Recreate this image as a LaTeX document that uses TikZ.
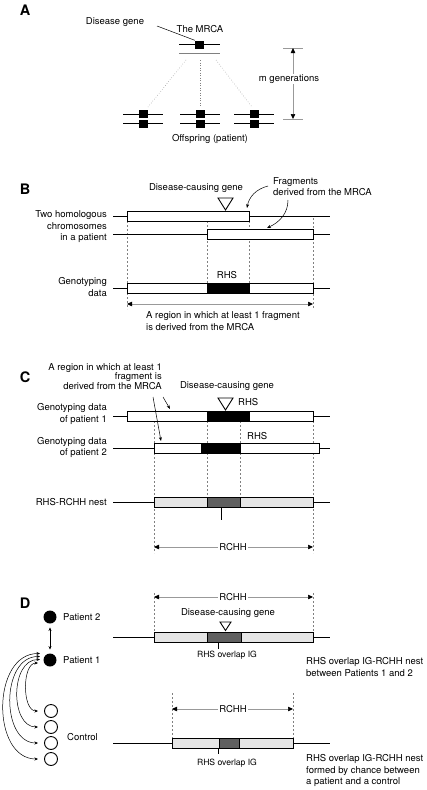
\documentclass[tikz,border=0pt]{standalone}
\usepackage{fontspec}
\setmainfont{TeX Gyre Heros}
\usetikzlibrary{arrows.meta}
\begin{document}
\begin{tikzpicture}[x=1pt,y=-1pt,
  txt/.style={font=\fontsize{9.5}{11.5}\selectfont, inner sep=0pt},
  small/.style={font=\fontsize{8.6}{10}\selectfont, inner sep=0pt},
  panel/.style={font=\fontsize{14.5}{15}\selectfont\bfseries, inner sep=0pt},
  chrom/.style={line width=0.9pt, black},
  seg/.style={draw=black, line width=0.9pt},
  gene/.style={fill=black, minimum width=9pt, minimum height=8pt, inner sep=0pt},
  guide/.style={gray, line width=0.5pt, dash pattern=on 2pt off 2pt},
  dim/.style={gray!80, line width=0.5pt, {Triangle[black,length=5pt,width=4.5pt]}-{Triangle[black,length=5pt,width=4.5pt]}},
  note/.style={line width=0.5pt, -{Stealth[length=4pt,width=3pt]}},
  tri/.style={draw=black, line width=0.9pt, fill=white},
  light/.style={fill=gray!20},
  dark/.style={fill=gray!75!black},
  circ/.style={circle, minimum size=13pt, inner sep=0pt, line width=0.9pt},
  darr/.style={line width=0.5pt, {Stealth[length=3.5pt,width=3pt]}-{Stealth[length=3.5pt,width=3pt]}}
]
\useasboundingbox (0,0) rectangle (427,790);
\fill[white] (0,0) rectangle (427,790);

% ---------------- Panel A ----------------
\node[panel] (lA) at (25,10) {A};
\node[txt] (dg) at (115,22) {Disease gene};
\node[txt] (mrca) at (200,29) {The MRCA};
\coordinate (m1) at (179,44); \coordinate (m2) at (220,44);
\coordinate (m3) at (179,53); \coordinate (m4) at (220,53);
\draw[chrom] (m1) -- (m2);
\draw[chrom, gray] (m3) -- (m4);
\node[gene] (g0) at (199.5,44.5) {};
\coordinate (dgs) at (157,26);
\draw[line width=0.5pt] (dgs) -- (g0.north west);
% dotted descent lines
\foreach \sx/\ex [count=\i] in {186/148, 200/200, 216/252}{
  \coordinate (ds\i) at (\sx,60); \coordinate (de\i) at (\ex,107);
  \draw[gray, line width=0.5pt, dotted] (ds\i) -- (de\i);
}
% offspring
\foreach \cx [count=\i] in {143,200,254}{
  \coordinate (oa\i) at (\cx-20,114); \coordinate (ob\i) at (\cx+20,114);
  \coordinate (oc\i) at (\cx-20,123); \coordinate (od\i) at (\cx+20,123);
  \draw[chrom] (oa\i) -- (ob\i);
  \draw[chrom] (oc\i) -- (od\i);
  \node[gene] (gu\i) at (\cx,114) {};
  \node[gene] (gl\i) at (\cx,123.5) {};
}
\node[txt] (off) at (210,139) {Offspring (patient)};
% m generations
\coordinate (t1a) at (283,48); \coordinate (t1b) at (303,48);
\coordinate (t2a) at (283,119); \coordinate (t2b) at (303,119);
\draw[gray!80, line width=0.6pt] (t1a) -- (t1b);
\draw[gray!80, line width=0.6pt] (t2a) -- (t2b);
\coordinate (mt) at (293,48); \coordinate (mb) at (293,119);
\draw[dim] (mt) -- (mb);
\node[txt, fill=white, inner sep=1pt] (mg) at (289,79) {m generations};

% ---------------- Panel B ----------------
\node[panel] (lB) at (25,189) {B};
\node[txt] (dcgB) at (196,188) {Disease-causing gene};
\node[txt, align=left, anchor=west] (fragB) at (273,186.5) {Fragments\\derived from the MRCA};
% guides
\draw[guide] (127,221) -- (127,309);
\draw[guide] (207,221) -- (207,283);
\draw[guide] (249,221) -- (249,283);
\draw[guide] (313,218) -- (313,309);
% chromosomes
\draw[chrom] (113,216) -- (330,216);
\draw[seg, fill=white] (127,211) rectangle (249,221);
\draw[chrom] (113,234) -- (330,234);
\draw[seg, fill=white] (207,229) rectangle (313,239);
\draw[tri] (218,198) -- (233,198) -- (225.5,210) -- cycle;
\node[txt, align=right, anchor=east] (homB) at (107,227) {Two homologous\\chromosomes\\in a patient};
\coordinate (fa1) at (268,186); \coordinate (fa2) at (247,208);
\coordinate (fb1) at (288,200); \coordinate (fb2) at (267,228);
\draw[note] (fa1) .. controls (256,189) and (249,197) .. (fa2);
\draw[note] (fb1) .. controls (288,213) and (280,222) .. (fb2);
% genotyping
\draw[chrom] (113,288) -- (330,288);
\draw[seg, fill=white] (127,283) rectangle (313,293);
\draw[seg, fill=black] (207,283) rectangle (249,293);
\node[txt] (rhsB) at (227,275) {RHS};
\node[txt, align=right, anchor=east] (genB) at (107,287) {Genotyping\\data};
\coordinate (bl) at (127,304); \coordinate (br) at (313,304);
\draw[dim] (bl) -- (br);
\node[txt, align=left, anchor=west] (regB) at (146,321) {A region in which at least 1 fragment\\is derived from the MRCA};

% ---------------- Panel C ----------------
\node[panel] (lC) at (25,377) {C};
\node[txt, align=right, anchor=east, font=\fontsize{9.5}{9.8}\selectfont] (regC) at (162,376.5) {A region in which at least 1\\fragment is\\derived from the MRCA};
\node[txt] (dcgC) at (227,386) {Disease-causing gene};
% guides
\draw[guide] (154,421) -- (154,553);
\draw[guide] (207,421) -- (207,497);
\draw[guide] (240,421) -- (240,497);
\draw[guide] (313,421) -- (313,553);
% patient 1
\draw[chrom] (113,416) -- (330,416);
\draw[seg, fill=white] (127,411) rectangle (313,421);
\draw[seg, fill=black] (207,411) rectangle (249,421);
\draw[tri] (218,398) -- (233,398) -- (225.5,410) -- cycle;
\node[txt, anchor=west] (rhsC1) at (238,402) {RHS};
\node[txt, align=right, anchor=east] (gp1) at (107,414) {Genotyping data\\of patient 1};
% patient 2
\draw[chrom] (113,448) -- (330,448);
\draw[seg, fill=white] (154,443) rectangle (319,453);
\draw[seg, fill=black] (201,443) rectangle (240,453);
\node[txt, anchor=west] (rhsC2) at (247,436) {RHS};
\node[txt, align=right, anchor=east] (gp2) at (107,447.5) {Genotyping data\\of patient 2};
\coordinate (ca1) at (153,397); \coordinate (ca2) at (161,441);
\coordinate (cb1) at (163,397); \coordinate (cb2) at (170,409);
\draw[note] (ca1) -- (ca2);
\draw[note] (cb1) -- (cb2);
% nest
\draw[chrom] (113,502) -- (330,502);
\draw[seg, light] (154,497) rectangle (313,507);
\draw[seg, dark] (207,497) rectangle (240,507);
\draw[line width=0.9pt] (221,507) -- (221,520);
\node[txt, anchor=east] (nestC) at (107,502) {RHS-RCHH nest};
\coordinate (cl) at (154,547); \coordinate (cr) at (313,547);
\draw[dim] (cl) -- (cr);
\node[txt, fill=white, inner sep=1pt] (rchhC) at (233,547) {RCHH};

% ---------------- Panel D ----------------
\node[panel] (lD) at (25,603) {D};
\draw[guide] (154,593) -- (154,632);
\draw[guide] (313,593) -- (313,632);
\coordinate (dl) at (154,597); \coordinate (dr) at (313,597);
\draw[dim] (dl) -- (dr);
\node[txt, fill=white, inner sep=1pt] (rchhD1) at (233,597) {RCHH};
\node[txt] (dcgD) at (228,613) {Disease-causing gene};
\draw[tri] (220,622) -- (231,622) -- (225.5,630.5) -- cycle;
\draw[chrom] (113,637) -- (330,637);
\draw[seg, light] (154,632) rectangle (313,642);
\draw[seg, dark] (207,632) rectangle (241,642);
\draw[line width=0.9pt] (218,642) -- (218,649);
\node[small] (ovD1) at (227,655) {RHS overlap IG};
\node[txt, align=left, anchor=west] (nestD1) at (306,667) {RHS overlap IG-RCHH nest\\between Patients 1 and 2};

% people
\node[circ, fill=black] (p2) at (50,617) {};
\node[circ, fill=black] (p1) at (50,660) {};
\node[txt, anchor=west] (p2t) at (63,617) {Patient 2};
\node[txt, anchor=west] (p1t) at (63,660) {Patient 1};
\draw[line width=0.5pt, {Stealth[length=3.5pt,width=3pt]}-{Stealth[length=3.5pt,width=3pt]}, shorten <=3.5pt, shorten >=3.5pt] (p2) -- (p1);
\foreach \y [count=\i] in {711,727,743,759}{
  \node[circ, draw=black, fill=white] (c\i) at (51,\y) {};
}
\node[txt, anchor=west] (ctl) at (67,737) {Control};
% curved double arrows patient 1 -> controls
\coordinate (s4) at (40,653.5); \coordinate (e4) at (38,759);
\coordinate (s3) at (40,656.5); \coordinate (e3) at (38,743);
\coordinate (s2) at (40,659.5); \coordinate (e2) at (38,727);
\coordinate (s1) at (38,663); \coordinate (e1) at (38,711);
\draw[darr] (s4) .. controls (-8.7,653.5) and (-8.7,759) .. (e4);
\draw[darr] (s3) .. controls (0.7,656.5) and (0.7,743) .. (e3);
\draw[darr] (s2) .. controls (10,659.5) and (10,727) .. (e2);
\draw[darr] (s1) .. controls (22,663) and (22,711) .. (e1);

% control row
\draw[guide] (172,693) -- (172,738);
\draw[guide] (293,693) -- (293,738);
\coordinate (el) at (172,709); \coordinate (er) at (293,709);
\draw[dim] (el) -- (er);
\node[txt, fill=white, inner sep=1pt] (rchhD2) at (233,709) {RCHH};
\draw[chrom] (113,743) -- (330,743);
\draw[seg, light] (172,738) rectangle (293,748);
\draw[seg, dark] (219,738) rectangle (239,748);
\draw[line width=0.9pt] (218,748) -- (218,754);
\node[small] (ovD2) at (227,763) {RHS overlap IG};
\node[txt, align=left, anchor=west] (nestD2) at (306,770.5) {RHS overlap IG-RCHH nest\\formed by chance between\\a patient and a control};
\end{tikzpicture}
\end{document}
